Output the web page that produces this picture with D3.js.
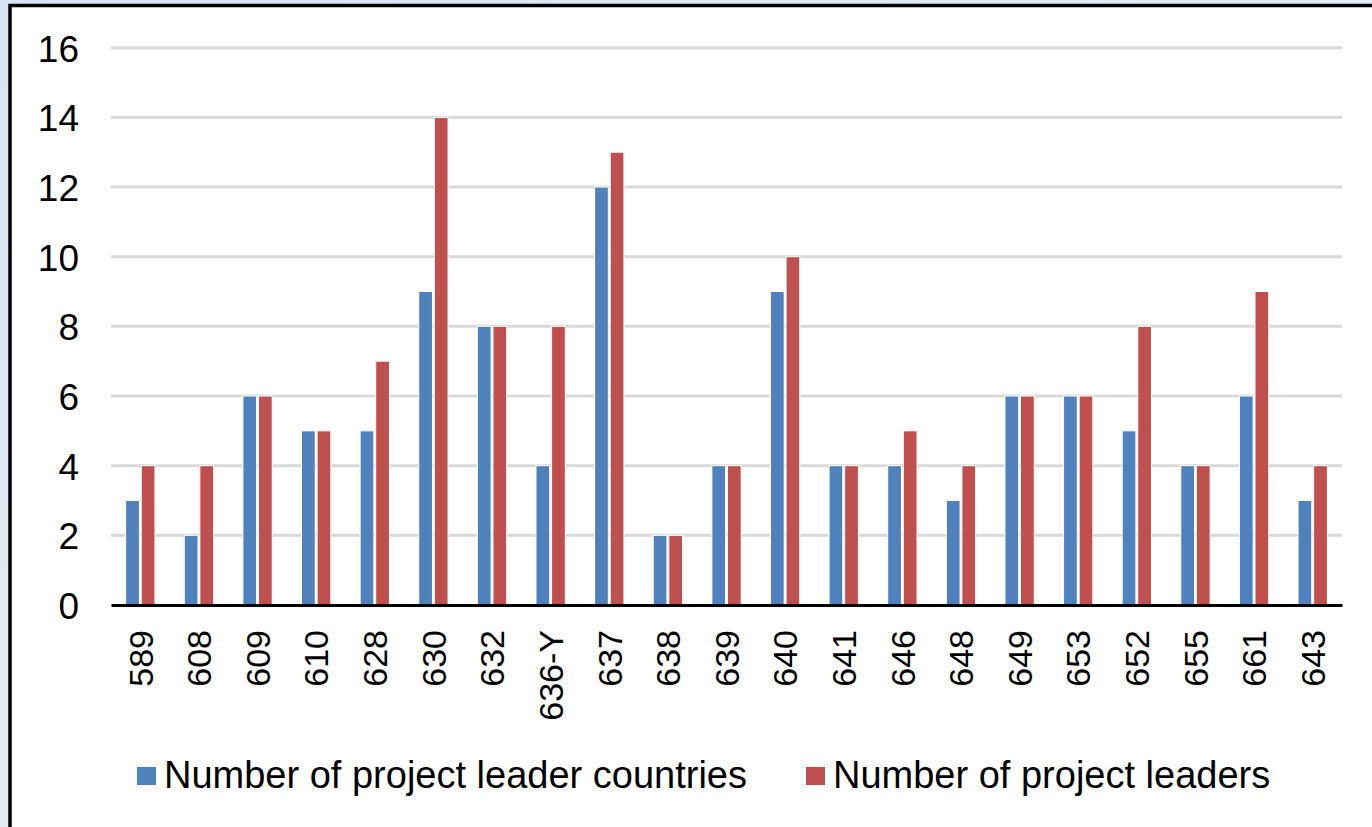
<!DOCTYPE html>
<html>
<head>
<meta charset="utf-8">
<script src="https://cdn.jsdelivr.net/npm/d3@7/dist/d3.min.js"></script>
<style>
  html, body { margin: 0; padding: 0; background: #dbe6f2; }
  svg { display: block; }
  text { font-family: "Liberation Sans", Arial, sans-serif; fill: #000; }
</style>
</head>
<body>
<svg id="chart" width="1372" height="827"></svg>
<script>
const categories = ["589","608","609","610","628","630","632","636-Y","637","638","639","640","641","646","648","649","653","652","655","661","643"];
const leaderCountries = [3,2,6,5,5,9,8,4,12,2,4,9,4,4,3,6,6,5,4,6,3];
const leaders = [4,4,6,5,7,14,8,8,13,2,4,10,4,5,4,6,6,8,4,9,4];
const seriesNames = ["Number of project leader countries", "Number of project leaders"];
const seriesColors = ["#4f81bd", "#c0504d"];
const yTicks = [0,2,4,6,8,10,12,14,16];

const svg = d3.select("#chart");
const W = 1372, H = 827;

// textured light-blue background
const defs = svg.append("defs");
const grad = defs.append("linearGradient").attr("id","bg").attr("x1","0").attr("y1","0").attr("x2","1").attr("y2","1");
grad.append("stop").attr("offset","0").attr("stop-color","#d6e4f2");
grad.append("stop").attr("offset","0.5").attr("stop-color","#e3ecf6");
grad.append("stop").attr("offset","1").attr("stop-color","#d3e1ef");
svg.append("rect").attr("width",W).attr("height",H).attr("fill","url(#bg)");

// white panel with black border (left and top visible)
svg.append("rect").attr("x",10).attr("y",5.5).attr("width",W+20).attr("height",H+20)
  .attr("fill","#fff").attr("stroke","#000").attr("stroke-width",3.5);

const plot = {left:111, right:1342, top:47.7, bottom:605};

const x0 = d3.scaleBand().domain(categories).range([plot.left, plot.right])
  .paddingInner(0.5).paddingOuter(0.25);
const x1 = d3.scaleBand().domain([0,1]).range([0, x0.bandwidth()]).paddingInner(0.12);
const y = d3.scaleLinear().domain([0,16]).range([plot.bottom, plot.top]);

// gridlines
svg.append("g").selectAll("line").data(yTicks.filter(d => d > 0)).join("line")
  .attr("x1", plot.left).attr("x2", plot.right)
  .attr("y1", d => y(d)).attr("y2", d => y(d))
  .attr("stroke", "#d9d9d9").attr("stroke-width", 3);

// y axis labels
const yAxis = d3.axisLeft(y).tickValues(yTicks).tickSize(0).tickPadding(0);
const gy = svg.append("g").attr("transform", `translate(79,0)`).call(yAxis);
gy.select(".domain").remove();
gy.selectAll("text").attr("font-size", 37).attr("font-family", "'Liberation Sans', Arial, sans-serif").attr("fill","#000").attr("dy","0.36em");

// bars
const series = [leaderCountries, leaders];
const groups = svg.append("g").selectAll("g").data(categories).join("g")
  .attr("transform", d => `translate(${x0(d)},0)`);
groups.selectAll("rect").data((d,i) => series.map((s,k) => ({k, v: s[i]}))).join("rect")
  .attr("x", d => x1(d.k))
  .attr("width", x1.bandwidth())
  .attr("y", d => y(d.v))
  .attr("height", d => y(0) - y(d.v))
  .attr("fill", d => seriesColors[d.k])
  .attr("stroke", "#fff").attr("stroke-width", 1);

// x axis
const xAxis = d3.axisBottom(x0).tickSize(0).tickPadding(0);
const gx = svg.append("g").attr("transform", `translate(0,${plot.bottom})`).call(xAxis);
gx.select(".domain").attr("stroke","#000").attr("stroke-width",3);
gx.selectAll("text")
  .attr("font-size", 34).attr("font-family", "'Liberation Sans', Arial, sans-serif").attr("fill","#000")
  .attr("text-anchor","end")
  .attr("transform","rotate(-90)")
  .attr("x", -25).attr("y", 0).attr("dy", "0.36em");

// legend
const legendItems = [
  {name: seriesNames[0], color: seriesColors[0], sx: 137, tx: 164},
  {name: seriesNames[1], color: seriesColors[1], sx: 806, tx: 833}
];
const lg = svg.append("g");
legendItems.forEach(it => {
  lg.append("rect").attr("x", it.sx).attr("y", 767).attr("width", 19).attr("height", 18).attr("fill", it.color);
  lg.append("text").attr("x", it.tx).attr("y", 788).attr("font-size", 38).text(it.name);
});
</script>
</body>
</html>
